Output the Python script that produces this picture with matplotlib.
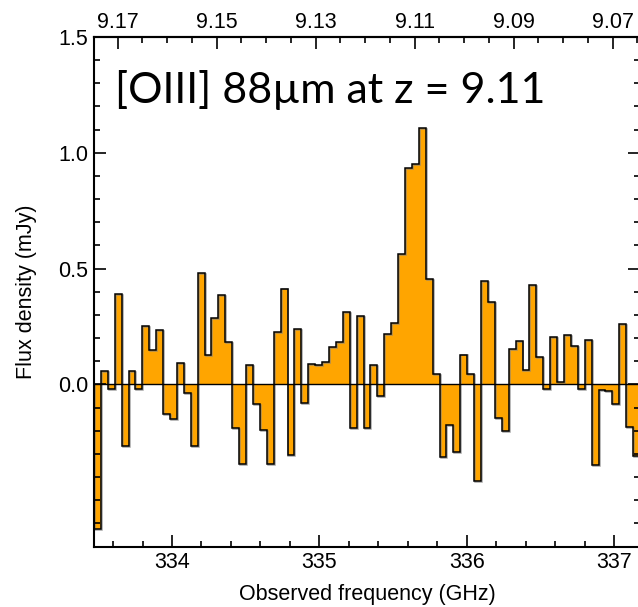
import numpy as np
import matplotlib
matplotlib.use("Agg")
import matplotlib.pyplot as plt
from matplotlib.ticker import MultipleLocator, FormatStrFormatter
import matplotlib.patheffects as pe

# channel edges (GHz), 79 channels of ~46.9 MHz
freq_lo = 333.4708
freq_hi = 337.1759
n_chan = 79

# flux density per channel (mJy)
flux = [-0.623, 0.058, -0.019, 0.391, -0.265, 0.058, -0.022, 0.252, 0.148, 0.233,
        -0.129, -0.150, 0.092, -0.036, -0.268, 0.481, 0.127, 0.288, 0.384, 0.184,
        -0.187, -0.342, 0.083, -0.083, -0.199, -0.342, 0.226, 0.414, -0.305, 0.240,
        -0.082, 0.089, 0.085, 0.096, 0.161, 0.183, 0.314, -0.188, 0.294, -0.188,
        0.082, -0.052, 0.216, 0.263, 0.565, 0.935, 0.951, 1.106, 0.456, 0.046,
        -0.312, -0.174, -0.294, 0.129, 0.045, -0.419, 0.446, 0.355, -0.144, -0.201,
        0.154, 0.188, 0.063, 0.430, 0.118, -0.019, 0.206, 0.012, 0.214, 0.167,
        -0.022, 0.193, -0.348, -0.023, -0.027, -0.083, 0.260, -0.184, -0.311]

freq_ticks = [334, 335, 336, 337]
flux_ticks = [0.0, 0.5, 1.0, 1.5]
z_ticks = [9.17, 9.15, 9.13, 9.11, 9.09, 9.07]

# top axis: redshift scale as drawn on the figure
z_ref, nu_ref, dnu_dz = 9.12, 335.31, 33.59

edges = np.linspace(freq_lo, freq_hi, n_chan + 1)

plt.rcParams['font.family'] = ['Liberation Sans', 'DejaVu Sans']

fig = plt.figure(figsize=(6.38, 6.07), dpi=100)
ax = fig.add_axes([94 / 638, 1 - 546.5 / 607, 546 / 638, 509.5 / 607])

ax.stairs(flux, edges, baseline=0, fill=True, color='#FFA500', lw=0)
ax.stairs(flux, edges, baseline=0, color='black', lw=1.1,
          path_effects=[pe.SimpleLineShadow(offset=(0.7, -0.7), shadow_color='gray', alpha=0.7),
                        pe.Normal()])
ax.axhline(0, color='black', lw=1.0)

ax.set_xlim(freq_lo, freq_hi)
ax.set_ylim(-0.7, 1.5)
ax.set_xticks(freq_ticks)
ax.xaxis.set_minor_locator(MultipleLocator(0.2))
ax.set_yticks(flux_ticks)
ax.yaxis.set_major_formatter(FormatStrFormatter('%.1f'))
ax.yaxis.set_minor_locator(MultipleLocator(0.1))

ax.tick_params(which='both', direction='in', top=False, right=True, width=1.2, labelsize=15.5)
ax.tick_params(which='major', length=8.5)
ax.tick_params(which='minor', length=4.3)
ax.tick_params(axis='x', pad=4)
ax.tick_params(axis='y', pad=4)
for s in ax.spines.values():
    s.set_linewidth(1.5)

ax.set_xlabel('Observed frequency (GHz)', fontsize=15.5, labelpad=8)
ax.set_ylabel('Flux density (mJy)', fontsize=15.5, labelpad=15)

def nu_to_z(nu):
    return z_ref - (np.asarray(nu) - nu_ref) / dnu_dz

def z_to_nu(z):
    return nu_ref - (np.asarray(z) - z_ref) * dnu_dz

secax = ax.secondary_xaxis('top', functions=(nu_to_z, z_to_nu))
secax.set_xticks(z_ticks)
secax.xaxis.set_major_formatter(FormatStrFormatter('%.2f'))
secax.xaxis.set_minor_locator(MultipleLocator(0.005))
secax.tick_params(which='both', direction='in', width=1.2, labelsize=15.5, pad=3)
secax.tick_params(which='major', length=8.5)
secax.tick_params(which='minor', length=4.3)
secax.spines['top'].set_linewidth(1.5)

ax.text(0.0385, 0.871, '[OIII] 88µm at z = 9.11', transform=ax.transAxes,
        fontsize=31, family=['Lato', 'DejaVu Sans'], va='baseline', ha='left')

fig.savefig('out.png', dpi=100)
